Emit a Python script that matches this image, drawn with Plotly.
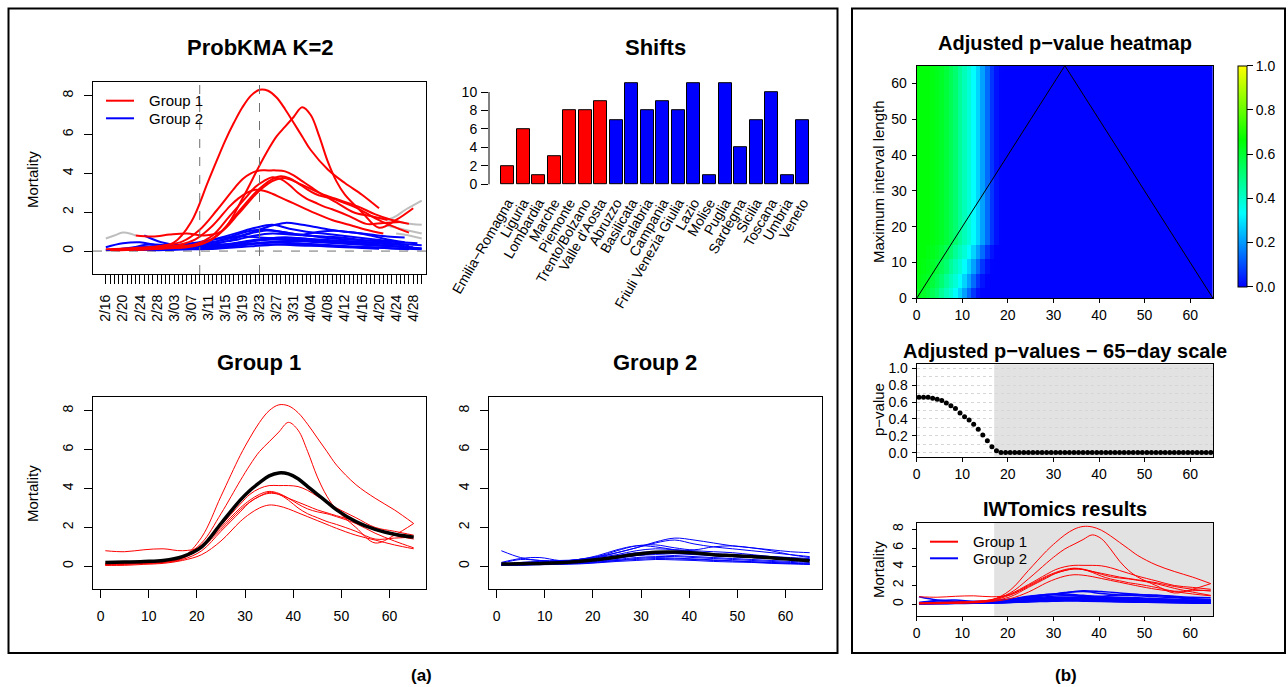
import plotly.graph_objects as go

W, H = 1288, 687
FONT = "Liberation Sans, Arial, Helvetica, sans-serif"

# ---------------- DATA ----------------
regions_g1 = ["Emilia−Romagna", "Liguria", "Lombardia", "Marche", "Piemonte",
              "Trento/Bolzano", "Valle d'Aosta"]
regions_g2 = ["Abruzzo", "Basilicata", "Calabria", "Campania", "Friuli Venezia Giulia",
              "Lazio", "Molise", "Puglia", "Sardegna", "Sicilia", "Toscana", "Umbria", "Veneto"]
shifts_g1 = [2, 6, 1, 3, 8, 8, 9]
shifts_g2 = [7, 11, 8, 9, 8, 11, 1, 11, 4, 7, 10, 1, 7]

# Group 1 aligned curves (day index within 65-day motif)
x_g1 = [1, 5, 9, 13, 17, 21, 25, 29, 31, 33, 35, 37, 39, 41, 43, 45, 47, 49, 53, 57, 61, 65]
emilia    = [0.05, 0.05, 0.10, 0.15, 0.30, 0.60, 1.30, 2.30, 2.70, 3.00, 3.15, 3.10, 2.95, 2.75, 2.55, 2.35, 2.15, 1.95, 1.60, 1.35, 1.10, 0.90]
liguria   = [0.10, 0.12, 0.15, 0.20, 0.35, 0.80, 1.80, 2.80, 3.30, 3.60, 3.80, 3.70, 3.40, 3.00, 2.70, 2.50, 2.30, 2.15, 1.80, 1.40, 1.45, 1.50]
lombardia = [0.10, 0.12, 0.15, 0.22, 0.45, 1.50, 3.60, 5.70, 6.60, 7.40, 8.00, 8.30, 8.25, 7.90, 7.30, 6.60, 5.90, 5.20, 4.20, 3.50, 2.90, 2.20]
marche    = [0.10, 0.15, 0.20, 0.30, 0.50, 1.10, 2.10, 3.20, 3.70, 4.00, 4.15, 4.15, 4.15, 4.10, 3.90, 3.60, 3.30, 3.00, 2.50, 2.00, 1.80, 1.60]
piemonte  = [0.80, 0.75, 0.85, 0.90, 0.80, 1.00, 1.90, 2.90, 3.30, 3.60, 3.75, 3.70, 3.50, 3.30, 3.10, 2.90, 2.75, 2.60, 2.30, 1.90, 1.60, 1.40]
trento    = [0.05, 0.10, 0.15, 0.20, 0.40, 1.00, 2.00, 3.00, 3.40, 3.70, 3.85, 3.75, 3.50, 3.20, 2.95, 2.80, 2.70, 2.55, 2.20, 1.70, 1.30, 0.95]
valle     = [0.15, 0.20, 0.25, 0.30, 0.50, 1.20, 2.70, 4.40, 5.20, 5.90, 6.40, 6.90, 7.40, 7.00, 5.90, 4.60, 3.60, 2.90, 2.00, 1.20, 1.60, 2.20]
mean_g1   = [0.20, 0.22, 0.25, 0.30, 0.50, 1.00, 2.20, 3.40, 3.90, 4.30, 4.65, 4.80, 4.75, 4.50, 4.10, 3.70, 3.30, 2.90, 2.30, 1.90, 1.65, 1.50]
curves_g1 = [emilia, liguria, lombardia, marche, piemonte, trento, valle]

# Group 2 aligned curves
x_g2 = [1, 5, 9, 13, 17, 21, 25, 29, 33, 37, 41, 45, 49, 53, 57, 61, 65]
abruzzo    = [0.10, 0.15, 0.20, 0.25, 0.35, 0.50, 0.80, 1.05, 1.10, 0.95, 0.85, 1.00, 1.05, 0.95, 0.80, 0.60, 0.45]
basilicata = [0.05, 0.05, 0.08, 0.10, 0.12, 0.18, 0.25, 0.30, 0.35, 0.33, 0.30, 0.25, 0.22, 0.20, 0.15, 0.12, 0.10]
calabria   = [0.05, 0.08, 0.10, 0.12, 0.15, 0.20, 0.30, 0.40, 0.45, 0.42, 0.38, 0.33, 0.28, 0.22, 0.18, 0.15, 0.10]
campania   = [0.05, 0.10, 0.10, 0.15, 0.20, 0.30, 0.45, 0.55, 0.60, 0.55, 0.50, 0.45, 0.40, 0.35, 0.30, 0.25, 0.20]
friuli     = [0.10, 0.12, 0.15, 0.20, 0.30, 0.45, 0.60, 0.80, 0.90, 0.85, 0.80, 0.75, 0.70, 0.60, 0.50, 0.40, 0.30]
lazio      = [0.10, 0.10, 0.15, 0.20, 0.25, 0.35, 0.50, 0.65, 0.70, 0.65, 0.60, 0.55, 0.50, 0.45, 0.40, 0.35, 0.30]
molise     = [0.05, 0.07, 0.10, 0.12, 0.15, 0.22, 0.30, 0.35, 0.40, 0.38, 0.35, 0.30, 0.27, 0.24, 0.20, 0.16, 0.12]
puglia     = [0.10, 0.10, 0.12, 0.15, 0.20, 0.25, 0.35, 0.45, 0.50, 0.50, 0.45, 0.40, 0.35, 0.30, 0.25, 0.20, 0.15]
sardegna   = [0.10, 0.20, 0.25, 0.25, 0.30, 0.45, 0.70, 0.95, 1.20, 1.35, 1.15, 1.00, 0.90, 0.80, 0.70, 0.60, 0.50]
sicilia    = [0.08, 0.10, 0.12, 0.15, 0.20, 0.28, 0.40, 0.55, 0.65, 0.70, 0.65, 0.55, 0.50, 0.45, 0.40, 0.35, 0.30]
toscana    = [0.80, 0.45, 0.30, 0.30, 0.35, 0.55, 0.85, 1.05, 1.00, 0.85, 0.75, 0.65, 0.60, 0.55, 0.50, 0.45, 0.40]
umbria     = [0.20, 0.40, 0.45, 0.30, 0.30, 0.40, 0.55, 0.70, 0.75, 0.70, 0.65, 0.60, 0.55, 0.50, 0.45, 0.40, 0.35]
veneto     = [0.15, 0.35, 0.30, 0.25, 0.35, 0.50, 0.70, 0.95, 1.25, 1.45, 1.35, 1.20, 1.05, 0.95, 0.85, 0.75, 0.70]
mean_g2    = [0.12, 0.13, 0.15, 0.18, 0.25, 0.35, 0.48, 0.62, 0.72, 0.73, 0.68, 0.60, 0.55, 0.50, 0.44, 0.36, 0.28]
curves_g2 = [abruzzo, basilicata, calabria, campania, friuli, lazio, molise, puglia,
             sardegna, sicilia, toscana, umbria, veneto]

# Unaligned remainder of the raw curves (grey) in ProbKMA panel: (day, value)
grey_days = [[0, 2, 4, 6, 7], [66, 68, 70, 72, 74], [64, 67, 70, 74], [66, 70, 74], [68, 71, 74], [0, 3, 6]]
grey_vals = [[0.65, 0.80, 0.95, 0.88, 0.80], [1.60, 1.80, 2.10, 2.35, 2.60], [1.75, 1.60, 1.45, 1.35],
             [1.30, 1.10, 0.90], [0.90, 0.80, 0.65], [0.00, 0.05, 0.10]]

date_labels = ["2/16", "2/20", "2/24", "2/28", "3/03", "3/07", "3/11", "3/15", "3/19", "3/23",
               "3/27", "3/31", "4/04", "4/08", "4/12", "4/16", "4/20", "4/24", "4/28"]
n_day_ticks = 75
motif_window = [22, 36]  # dashed vertical lines (days from 2/16)

# Adjusted p-values at the 65-day scale
pval_65 = [0.656, 0.656, 0.656, 0.645, 0.633, 0.617, 0.590, 0.555, 0.523, 0.469, 0.426, 0.387,
           0.336, 0.277, 0.211, 0.141, 0.070, 0.023, 0.004, 0.003, 0.003, 0.003, 0.003, 0.003,
           0.003, 0.003, 0.003, 0.003, 0.003, 0.003, 0.003, 0.003, 0.003, 0.003, 0.003, 0.003,
           0.003, 0.003, 0.003, 0.003, 0.003, 0.003, 0.003, 0.003, 0.003, 0.003, 0.003, 0.003,
           0.003, 0.003, 0.003, 0.003, 0.003, 0.003, 0.003, 0.003, 0.003, 0.003, 0.003, 0.003,
           0.003, 0.003, 0.003, 0.003, 0.003]
# leftward displacement of the p-value profile at the smallest interval lengths (rows 1..15)
scale_shift = [4, 4, 4, 3, 3, 3, 3, 2, 2, 2, 2, 1, 1, 1, 1]
signif_start = 17

RED, BLUE, GREY = "#FF0000", "#0000FF", "#BEBEBE"

# ---------------- helpers (pixel -> paper) ----------------
def dx(l, r):
    return [l / W, r / W]

def dy(t, b):
    return [1 - b / H, 1 - t / H]

def px(x):
    return x / W

def py(y):
    return 1 - y / H

fig = go.Figure()

# ---------------- ProbKMA panel ----------------
for vals, days in zip(grey_vals, grey_days):
    fig.add_trace(go.Scatter(x=days, y=vals, mode="lines", line=dict(color=GREY, width=2, shape="spline"),
                             xaxis="x", yaxis="y", showlegend=False, hoverinfo="skip"))
for c, s in zip(curves_g2, shifts_g2):
    fig.add_trace(go.Scatter(x=[v + s - 2 for v in x_g2], y=c, mode="lines",
                             line=dict(color=BLUE, width=2, shape="spline"),
                             xaxis="x", yaxis="y", showlegend=False))
for c, s in zip(curves_g1, shifts_g1):
    fig.add_trace(go.Scatter(x=[v + s - 2 for v in x_g1], y=c, mode="lines",
                             line=dict(color=RED, width=2, shape="spline"),
                             xaxis="x", yaxis="y", showlegend=False))

# ---------------- Shifts bar chart ----------------
all_regions = regions_g1 + regions_g2
all_shifts = shifts_g1 + shifts_g2
bar_colors = [RED] * len(regions_g1) + [BLUE] * len(regions_g2)
fig.add_trace(go.Bar(x=list(range(len(all_regions))), y=all_shifts, width=1 / 1.2,
                     marker=dict(color=bar_colors, line=dict(color="black", width=1)),
                     xaxis="x2", yaxis="y2", showlegend=False))

# ---------------- Group 1 / Group 2 ----------------
for c in curves_g1:
    fig.add_trace(go.Scatter(x=x_g1, y=c, mode="lines", line=dict(color=RED, width=1, shape="spline"),
                             xaxis="x3", yaxis="y3", showlegend=False))
fig.add_trace(go.Scatter(x=x_g1, y=mean_g1, mode="lines", line=dict(color="black", width=3.5, shape="spline"),
                         xaxis="x3", yaxis="y3", showlegend=False))
for c in curves_g2:
    fig.add_trace(go.Scatter(x=x_g2, y=c, mode="lines", line=dict(color=BLUE, width=1, shape="spline"),
                             xaxis="x4", yaxis="y4", showlegend=False))
fig.add_trace(go.Scatter(x=x_g2, y=mean_g2, mode="lines", line=dict(color="black", width=3.5, shape="spline"),
                         xaxis="x4", yaxis="y4", showlegend=False))

# ---------------- Heatmap ----------------
n = len(pval_65)
z = []
for L in range(n):
    s = scale_shift[L] if L < len(scale_shift) else 0
    z.append([pval_65[min(n - 1, j + s)] for j in range(n)])
cscale = [[0.0, "#0000FF"], [1 / 3, "#00FFFF"], [2 / 3, "#00FF00"], [1.0, "#FFFF00"]]
fig.add_trace(go.Heatmap(
    x=[j + 0.5 for j in range(n)], y=[L + 0.5 for L in range(n)], z=z, zmin=0, zmax=1,
    colorscale=cscale, xaxis="x5", yaxis="y5", zsmooth=False,
    colorbar=dict(x=px(1237.7), xanchor="left", y=py(286.7), yanchor="bottom",
                  len=(286.7 - 65.7) / H, lenmode="fraction", thickness=9, thicknessmode="pixels",
                  outlinewidth=1, outlinecolor="black", xpad=0, ypad=0,
                  tickvals=[0, 0.2, 0.4, 0.6, 0.8, 1.0], ticktext=["0.0", "0.2", "0.4", "0.6", "0.8", "1.0"],
                  ticks="outside", ticklen=6, tickcolor="black",
                  tickfont=dict(family=FONT, size=14, color="black"))))
fig.add_trace(go.Scatter(x=[0, n / 2, n], y=[0, n, 0], mode="lines", line=dict(color="black", width=1),
                         xaxis="x5", yaxis="y5", showlegend=False))

# ---------------- p-values 65-day scale ----------------
fig.add_trace(go.Scatter(x=[j + 0.5 for j in range(n)], y=pval_65, mode="markers",
                         marker=dict(color="black", size=5), xaxis="x6", yaxis="y6", showlegend=False))

# ---------------- IWTomics results ----------------
for c in curves_g2:
    fig.add_trace(go.Scatter(x=[v - 0.5 for v in x_g2], y=c, mode="lines",
                             line=dict(color=BLUE, width=1.5, shape="spline"),
                             xaxis="x7", yaxis="y7", showlegend=False))
for c in curves_g1:
    fig.add_trace(go.Scatter(x=[v - 0.5 for v in x_g1], y=c, mode="lines",
                             line=dict(color=RED, width=1, shape="spline"),
                             xaxis="x7", yaxis="y7", showlegend=False))

# ---------------- axes ----------------
tickfont = dict(family=FONT, size=14, color="black")
box = dict(showline=True, mirror=True, linecolor="black", linewidth=1, showgrid=False, zeroline=False,
           ticks="outside", tickcolor="black", tickfont=tickfont, automargin=False)

day_ticktext = [date_labels[d // 4] if (d % 4 == 0 and d // 4 < len(date_labels)) else ""
                for d in range(n_day_ticks)]

layout_axes = dict(
    xaxis=dict(box, domain=dx(93, 426), range=[-3, 75], anchor="y", tickvals=list(range(n_day_ticks)),
               ticktext=day_ticktext, tickangle=-90, ticklen=9, ticklabelstandoff=5),
    yaxis=dict(box, domain=dy(82, 274), range=[-1.18, 8.7], anchor="x", tickvals=[0, 2, 4, 6, 8],
               tickangle=-90, ticklen=8, ticklabelstandoff=5),
    xaxis2=dict(domain=dx(489, 822), range=[-1.19, 20.24], anchor="y2", showline=False, showgrid=False,
                zeroline=False, ticks="", tickvals=list(range(len(all_regions))), ticktext=all_regions,
                tickangle=-60, tickfont=tickfont, ticklabelstandoff=2, automargin=False),
    yaxis2=dict(domain=dy(78.2, 188.9), range=[-0.5, 11.5], anchor="x2", showline=False, showgrid=False,
                zeroline=False, ticks="outside", ticklen=7, tickcolor="black", tickvals=[0, 2, 4, 6, 8, 10],
                tickfont=tickfont, ticklabelstandoff=1, automargin=False),
    xaxis3=dict(box, domain=dx(93, 426), range=[-1.56, 67.56], anchor="y3", tickvals=[0, 10, 20, 30, 40, 50, 60],
                ticklen=8, ticklabelstandoff=6),
    yaxis3=dict(box, domain=dy(397, 589), range=[-1.167, 8.704], anchor="x3", tickvals=[0, 2, 4, 6, 8],
                tickangle=-90, ticklen=8, ticklabelstandoff=5),
    xaxis4=dict(box, domain=dx(489, 822), range=[-1.56, 67.56], anchor="y4", tickvals=[0, 10, 20, 30, 40, 50, 60],
                ticklen=8, ticklabelstandoff=6),
    yaxis4=dict(box, domain=dy(397, 589), range=[-1.167, 8.704], anchor="x4", tickvals=[0, 2, 4, 6, 8],
                tickangle=-90, ticklen=8, ticklabelstandoff=5),
    xaxis5=dict(box, domain=dx(916.7, 1213), range=[0, 65], anchor="y5", tickvals=[0, 10, 20, 30, 40, 50, 60],
                ticklen=4, ticklabelstandoff=0),
    yaxis5=dict(box, domain=dy(65.7, 298.3), range=[0, 65], anchor="x5", tickvals=[0, 10, 20, 30, 40, 50, 60],
                ticklen=4, ticklabelstandoff=2),
    xaxis6=dict(box, domain=dx(916.7, 1213), range=[0, 65], anchor="y6", tickvals=[0, 10, 20, 30, 40, 50, 60],
                ticklen=4, ticklabelstandoff=0),
    yaxis6=dict(box, domain=dy(364.3, 456.7), range=[-0.047, 1.047], anchor="x6",
                tickvals=[0, 0.2, 0.4, 0.6, 0.8, 1.0], ticktext=["0.0", "0.2", "0.4", "0.6", "0.8", "1.0"],
                ticklen=4, ticklabelstandoff=1,
                minor=dict(dtick=0.1, tick0=0, showgrid=True, gridcolor="#D6D6D6", griddash="dot", gridwidth=1)),
    xaxis7=dict(box, domain=dx(916.7, 1213), range=[0, 65], anchor="y7", tickvals=[0, 10, 20, 30, 40, 50, 60],
                ticklen=4, ticklabelstandoff=0),
    yaxis7=dict(box, domain=dy(522.7, 615.7), range=[-1.22, 8.7], anchor="x7", tickvals=[0, 2, 4, 6, 8],
                tickangle=-90, ticklen=4, ticklabelstandoff=3),
)
layout_axes["yaxis6"].update(showgrid=True, gridcolor="#D6D6D6", griddash="dot", gridwidth=1)

# ---------------- shapes ----------------
shapes = []
shapes.append(dict(type="rect", xref="paper", yref="paper", x0=px(8.5), x1=px(837.5), y0=py(653), y1=py(8.5),
                   line=dict(color="black", width=2), fillcolor="rgba(0,0,0,0)"))
shapes.append(dict(type="rect", xref="paper", yref="paper", x0=px(852), x1=px(1285), y0=py(653), y1=py(8.5),
                   line=dict(color="black", width=2), fillcolor="rgba(0,0,0,0)"))
for d in motif_window:
    shapes.append(dict(type="line", xref="x", yref="y domain", x0=d, x1=d, y0=0, y1=1,
                       line=dict(color="#707070", width=1, dash="dash")))
shapes.append(dict(type="line", xref="x domain", yref="y", x0=0, x1=1, y0=0, y1=0,
                   line=dict(color="#707070", width=1, dash="dash"), layer="below"))
shapes.append(dict(type="line", xref="x2 domain", yref="y2", x0=0, x1=0, y0=0, y1=10,
                   line=dict(color="black", width=1)))
for xa, ya in (("x6", "y6"), ("x7", "y7")):
    shapes.append(dict(type="rect", xref=xa, yref=ya + " domain", x0=signif_start, x1=n, y0=0, y1=1,
                       fillcolor="#E2E2E2", line=dict(width=0), layer="below"))
for (x0, x1, yA, yB) in ((106, 134, 100.7, 118.3), (930, 958, 541.7, 558.3)):
    shapes.append(dict(type="line", xref="paper", yref="paper", x0=px(x0), x1=px(x1), y0=py(yA), y1=py(yA),
                       line=dict(color=RED, width=2)))
    shapes.append(dict(type="line", xref="paper", yref="paper", x0=px(x0), x1=px(x1), y0=py(yB), y1=py(yB),
                       line=dict(color=BLUE, width=2)))

# ---------------- annotations ----------------
ann = []
def text(t, x, y, size=13, bold=False, angle=0, xanchor="center"):
    ann.append(dict(text=f"<b>{t}</b>" if bold else t, x=px(x), y=py(y), xref="paper", yref="paper",
                    showarrow=False, xanchor=xanchor, yanchor="middle", textangle=angle,
                    font=dict(family=FONT, size=size, color="black")))

text("ProbKMA K=2", 260, 48, 22, True)
text("Shifts", 655, 48, 22, True)
text("Group 1", 259, 362, 22, True)
text("Group 2", 655, 362, 22, True)
text("Adjusted p−value heatmap", 1065, 43, 20, True)
text("Adjusted p−values − 65−day scale", 1065, 351, 20, True)
text("IWTomics results", 1065, 509, 20, True)
text("(a)", 421, 675, 17, True)
text("(b)", 1066, 675, 17, True)
text("Mortality", 32, 179, 15, angle=-90)
text("Mortality", 32, 493, 15, angle=-90)
text("Maximum interval length", 878, 182, 15, angle=-90)
text("p−value", 878, 410, 15, angle=-90)
text("Mortality", 878, 570, 15, angle=-90)
text("Group 1", 146.7, 100.7, 15, xanchor="left")
text("Group 2", 146.7, 118.3, 15, xanchor="left")
text("Group 1", 970.7, 541.7, 15, xanchor="left")
text("Group 2", 970.7, 558.3, 15, xanchor="left")

fig.update_layout(
    template="none",
    width=W, height=H, margin=dict(l=0, r=0, t=0, b=0, autoexpand=False), autosize=False,
    paper_bgcolor="white", plot_bgcolor="white", showlegend=False,
    font=dict(family=FONT, size=13, color="black"),
    shapes=shapes, annotations=ann, bargap=0, **layout_axes)

fig.write_html("out.html")
